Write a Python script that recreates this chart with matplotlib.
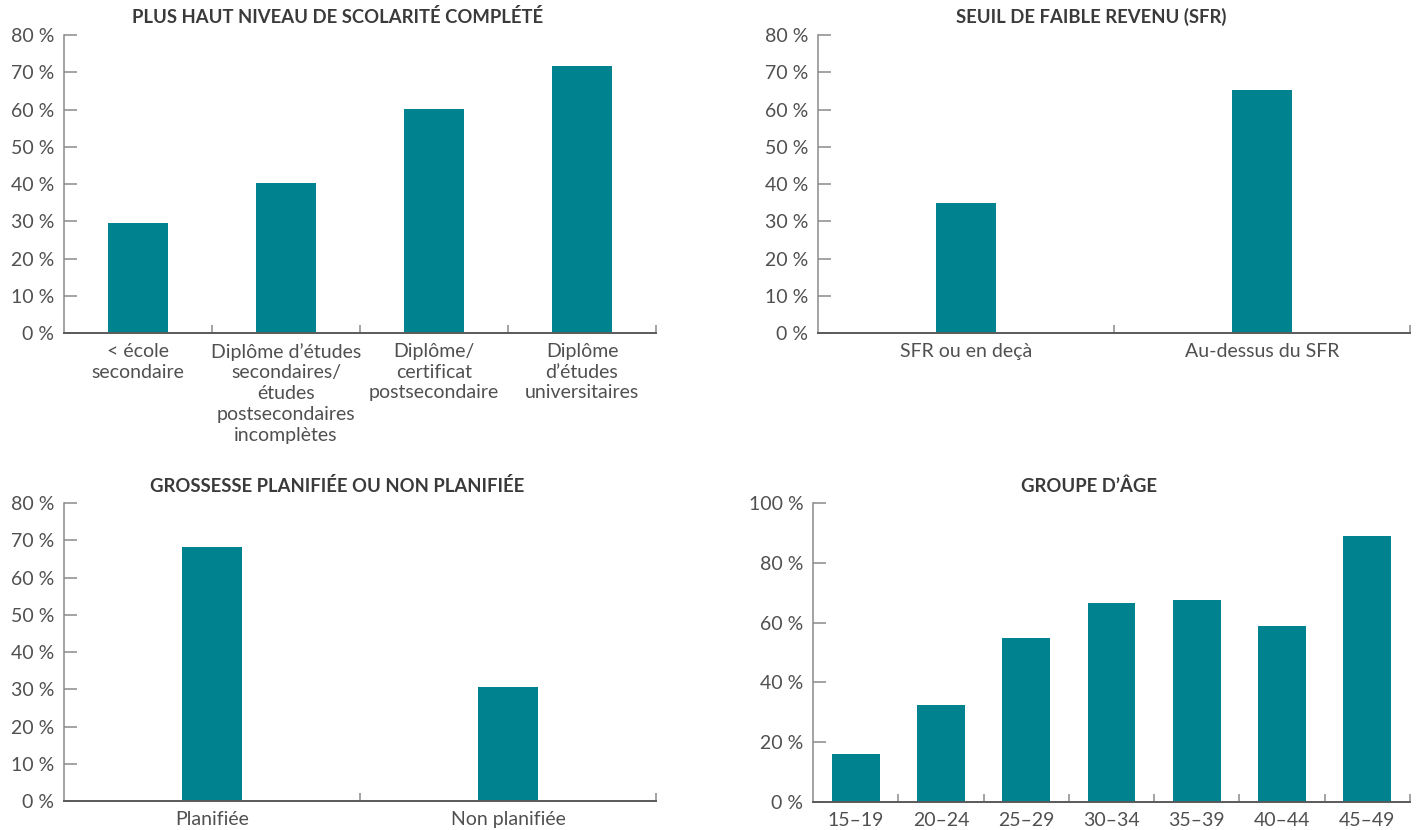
import matplotlib
matplotlib.use("Agg")
import matplotlib.pyplot as plt
import numpy as np

plt.rcParams['font.family'] = ['Lato', 'DejaVu Sans']

# ---- data ----
edu_labels = ["< école\nsecondaire",
              "Diplôme d’études\nsecondaires/\nétudes\npostsecondaires\nincomplètes",
              "Diplôme/\ncertificat\npostsecondaire",
              "Diplôme\nd’études\nuniversitaires"]
edu_values = [29.5, 40.4, 60.2, 71.7]

sfr_labels = ["SFR ou en deçà", "Au-dessus du SFR"]
sfr_values = [34.8, 65.3]

preg_labels = ["Planifiée", "Non planifiée"]
preg_values = [68.3, 30.5]

age_labels = ["15–19", "20–24", "25–29", "30–34", "35–39", "40–44", "45–49"]
age_values = [16.1, 32.3, 54.9, 66.6, 67.6, 58.9, 89.1]

titles = ["PLUS HAUT NIVEAU DE SCOLARITÉ COMPLÉTÉ",
          "SEUIL DE FAIBLE REVENU (SFR)",
          "GROSSESSE PLANIFIÉE OU NON PLANIFIÉE",
          "GROUPE D’ÂGE"]

BAR = "#00838F"
TXT = "#505050"
W, H = 1424, 830

fig = plt.figure(figsize=(W / 100, H / 100), dpi=100)


def px_axes(left, right, top, bottom):
    return fig.add_axes([left / W, 1 - bottom / H, (right - left) / W, (bottom - top) / H])


def draw(ax, labels, values, width, ymax, ystep, title, title_x, title_y):
    n = len(values)
    x = np.arange(n)
    ax.bar(x, values, width=width, color=BAR, zorder=2)
    ax.set_xlim(-0.5, n - 0.5)
    ax.set_ylim(0, ymax)
    yt = np.arange(0, ymax + 1, ystep)
    ax.set_yticks(yt)
    ax.set_yticklabels([f"{int(v)} %" for v in yt])
    ax.set_xticks(x)
    ax.set_xticklabels(labels, linespacing=1.27)
    ax.set_xticks(np.arange(0.5, n, 1.0), minor=True)
    for s in ["top", "right"]:
        ax.spines[s].set_visible(False)
    ax.spines["left"].set_color("#8a8a8a")
    ax.spines["left"].set_linewidth(1.1)
    ax.spines["bottom"].set_color("#5a5a5a")
    ax.spines["bottom"].set_linewidth(1.4)
    ax.tick_params(axis="y", direction="in", length=9.5, width=1.1, color="#8a8a8a",
                   pad=7, labelsize=14, labelcolor=TXT)
    ax.tick_params(axis="x", which="major", length=0, pad=7, labelsize=14, labelcolor=TXT)
    ax.tick_params(axis="x", which="minor", direction="in", length=6, width=1.1, color="#8a8a8a")
    fig.text(title_x / W, 1 - title_y / H, title, ha="center", va="center",
             fontsize=13.3, fontweight="bold", color="#3a3a3a")


ax1 = px_axes(64, 656, 35, 333)
draw(ax1, edu_labels, edu_values, 0.405, 80, 10, titles[0], 338, 17)

ax2 = px_axes(818, 1410, 35, 333)
draw(ax2, sfr_labels, sfr_values, 0.2, 80, 10, titles[1], 1091, 17)

ax3 = px_axes(64, 656, 503, 801)
draw(ax3, preg_labels, preg_values, 0.2, 80, 10, titles[2], 337, 486)

ax4 = px_axes(813, 1410, 503, 802)
draw(ax4, age_labels, age_values, 0.56, 100, 20, titles[3], 1089, 486)

fig.savefig("out.png", dpi=100)
